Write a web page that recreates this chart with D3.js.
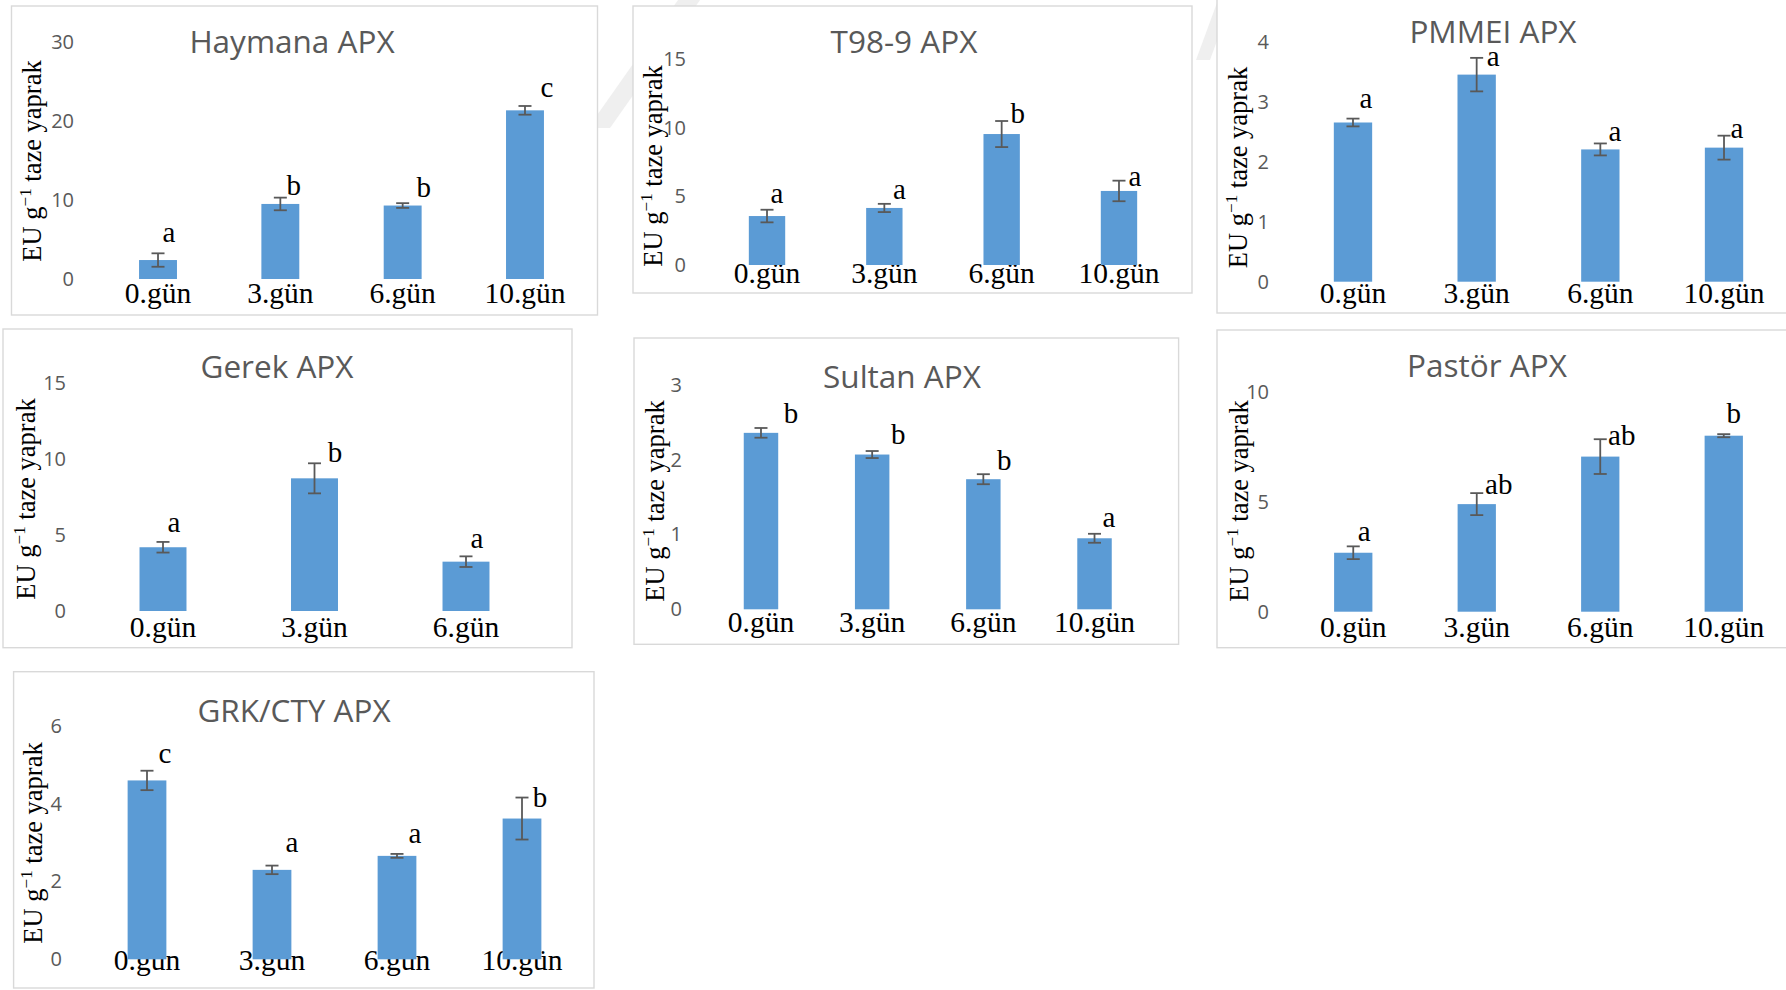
<!DOCTYPE html>
<html lang="tr">
<head>
<meta charset="utf-8">
<title>APX aktivitesi</title>
<script src="https://cdn.jsdelivr.net/npm/d3@7"></script>
<style>
  html, body { margin: 0; padding: 0; background: #ffffff; }
  svg { display: block; }
</style>
</head>
<body>
<svg id="chart" width="1786" height="990"></svg>
<script>
// ---- data ----------------------------------------------------------------
const days4 = ["0.gün", "3.gün", "6.gün", "10.gün"];
const days3 = ["0.gün", "3.gün", "6.gün"];

const haymanaMeans  = [2.4, 9.5, 9.3, 21.35];
const haymanaErrors = [0.85, 0.8, 0.3, 0.55];
const haymanaGroups = ["a", "b", "b", "c"];
const haymanaTicks  = [0, 10, 20, 30];

const t989Means  = [3.57, 4.16, 9.55, 5.4];
const t989Errors = [0.46, 0.3, 0.95, 0.75];
const t989Groups = ["a", "a", "b", "a"];
const t989Ticks  = [0, 5, 10, 15];

const pmmeiMeans  = [2.66, 3.46, 2.21, 2.24];
const pmmeiErrors = [0.065, 0.28, 0.1, 0.2];
const pmmeiGroups = ["a", "a", "a", "a"];
const pmmeiTicks  = [0, 1, 2, 3, 4];

const gerekMeans  = [4.2, 8.74, 3.25];
const gerekErrors = [0.35, 0.99, 0.35];
const gerekGroups = ["a", "b", "a"];
const gerekTicks  = [0, 5, 10, 15];

const sultanMeans  = [2.36, 2.07, 1.74, 0.95];
const sultanErrors = [0.065, 0.047, 0.067, 0.06];
const sultanGroups = ["b", "b", "b", "a"];
const sultanTicks  = [0, 1, 2, 3];

const pastorMeans  = [2.68, 4.89, 7.05, 8.0];
const pastorErrors = [0.29, 0.5, 0.79, 0.07];
const pastorGroups = ["a", "ab", "ab", "b"];
const pastorTicks  = [0, 5, 10];

const grkMeans  = [4.6, 2.3, 2.66, 3.62];
const grkErrors = [0.25, 0.11, 0.05, 0.54];
const grkGroups = ["c", "a", "a", "b"];
const grkTicks  = [0, 2, 4, 6];

const panelTitles = ["Haymana APX", "T98-9 APX", "PMMEI APX", "Gerek APX",
                     "Sultan APX", "Pastör APX", "GRK/CTY APX"];

// ---- panel geometry (frame, plot ranges, text anchors) --------------------
// nudge: offset of each group letter from the top of its error bar [dx, dy]
const layout = [
  { box: [11.5, 6, 597.5, 315],    xr: [96.85, 586.15],  yr: [279, 42],      tickRight: 74,   title: [292, 53],    yTitle: [41, 161],     labelBase: 303,
    nudge: [[11, -11], [13.5, -3], [21, -6], [22, -9]] },
  { box: [633, 6, 1192, 293],      xr: [708.35, 1177.65], yr: [265, 59.3],   tickRight: 686,  title: [904, 53],    yTitle: [662, 166],    labelBase: 283,
    nudge: [[10, -7], [15, -5], [16, 2], [16, 5]] },
  { box: [1217, -5, 1800, 313],    xr: [1291.15, 1785.85], yr: [281.7, 42.3], tickRight: 1269, title: [1493, 43],   yTitle: [1246.7, 167.5], labelBase: 303,
    nudge: [[13, -11], [16.5, 8], [14.5, -2], [13, 2]] },
  { box: [3, 329, 572, 647.7],     xr: [87.25, 541.75],  yr: [611, 383.3],   tickRight: 66,   title: [277, 378],   yTitle: [35, 499],     labelBase: 636.7,
    nudge: [[11, -10], [20.5, -1], [11, -8.6]] },
  { box: [634, 338, 1178.6, 644.3], xr: [705.4, 1150.1], yr: [609.3, 385],   tickRight: 682,  title: [902, 388],   yTitle: [663.6, 501],  labelBase: 631.7,
    nudge: [[30, -5], [26, -7], [21, -4], [14.5, -7]] },
  { box: [1217, 330, 1800, 647.7], xr: [1291.5, 1785.5], yr: [611.7, 391.7], tickRight: 1269, title: [1487, 377],  yTitle: [1247.8, 501], labelBase: 636.7,
    nudge: [[11, -5], [22, 1], [21.5, 6], [10, -11]] },
  { box: [13.6, 671.7, 594, 988],  xr: [84.5, 584.5],    yr: [959.3, 726],   tickRight: 62,   title: [294, 722],   yTitle: [41.6, 843],   labelBase: 970,
    nudge: [[18, -8], [20, -14], [18, -11], [18, 9]] }
];

const panels = [
  { cats: days4, means: haymanaMeans, errs: haymanaErrors, groups: haymanaGroups, ticks: haymanaTicks },
  { cats: days4, means: t989Means,    errs: t989Errors,    groups: t989Groups,    ticks: t989Ticks },
  { cats: days4, means: pmmeiMeans,   errs: pmmeiErrors,   groups: pmmeiGroups,   ticks: pmmeiTicks },
  { cats: days3, means: gerekMeans,   errs: gerekErrors,   groups: gerekGroups,   ticks: gerekTicks },
  { cats: days4, means: sultanMeans,  errs: sultanErrors,  groups: sultanGroups,  ticks: sultanTicks },
  { cats: days4, means: pastorMeans,  errs: pastorErrors,  groups: pastorGroups,  ticks: pastorTicks },
  { cats: days4, means: grkMeans,     errs: grkErrors,     groups: grkGroups,     ticks: grkTicks }
];

// ---- styles ---------------------------------------------------------------
const BAR = "#5b9bd5";
const GREY = "#595959";
const SANS = "'Open Sans', 'Noto Sans', sans-serif";
const SERIF = "'Liberation Serif', 'Times New Roman', serif";

const svg = d3.select("#chart");

// faint background watermark strokes
const wm = svg.append("g").attr("fill", "#efefef");
wm.append("polygon").attr("points", "588,128 610,128 700,0 678,0");
wm.append("polygon").attr("points", "1196,60 1210,60 1232,0 1218,0");

panels.forEach((p, i) => {
  const L = layout[i];
  const g = svg.append("g");

  // chart frame
  g.append("rect")
    .attr("x", L.box[0]).attr("y", L.box[1])
    .attr("width", L.box[2] - L.box[0]).attr("height", L.box[3] - L.box[1])
    .attr("fill", "#ffffff").attr("stroke", "#d9d9d9").attr("stroke-width", 1.4);

  const x = d3.scaleBand().domain(p.cats).range(L.xr)
    .paddingInner(0.69).paddingOuter(0.345);
  const y = d3.scaleLinear().domain([0, d3.max(p.ticks)]).range(L.yr);

  // title
  g.append("text")
    .attr("x", L.title[0]).attr("y", L.title[1])
    .attr("text-anchor", "middle")
    .attr("font-family", SANS).attr("font-size", 31.5).attr("fill", GREY)
    .text(panelTitles[i]);

  // value axis (labels only)
  const yAxis = g.append("g")
    .attr("transform", `translate(${L.tickRight},0)`)
    .call(d3.axisLeft(y).tickValues(p.ticks).tickSize(0).tickPadding(0).tickFormat(d3.format("d")));
  yAxis.select(".domain").remove();
  yAxis.selectAll("text")
    .attr("font-family", SANS).attr("font-size", 20).attr("fill", GREY);

  // category axis (labels only)
  const xAxis = g.append("g")
    .attr("transform", `translate(0,${L.yr[0]})`)
    .call(d3.axisBottom(x).tickSize(0));
  xAxis.select(".domain").remove();
  xAxis.selectAll("text")
    .attr("y", L.labelBase - L.yr[0]).attr("dy", 0)
    .attr("font-family", SERIF).attr("font-size", 29.5).attr("fill", "#000");

  const rows = p.cats.map((c, k) => ({ c, m: p.means[k], e: p.errs[k], g: p.groups[k], n: L.nudge[k] }));

  // bars
  g.append("g").selectAll("rect").data(rows).join("rect")
    .attr("x", d => x(d.c)).attr("width", x.bandwidth())
    .attr("y", d => y(d.m)).attr("height", d => y(0) - y(d.m))
    .attr("fill", BAR);

  // error bars
  const cap = 6.5;
  const eb = g.append("g").attr("stroke", GREY).attr("stroke-width", 1.8).attr("fill", "none");
  rows.forEach(d => {
    const cx = x(d.c) + x.bandwidth() / 2;
    const lo = y(d.m - d.e), hi = y(d.m + d.e);
    eb.append("line").attr("x1", cx).attr("x2", cx).attr("y1", lo).attr("y2", hi);
    eb.append("line").attr("x1", cx - cap).attr("x2", cx + cap).attr("y1", lo).attr("y2", lo);
    eb.append("line").attr("x1", cx - cap).attr("x2", cx + cap).attr("y1", hi).attr("y2", hi);
  });

  // significance letters
  g.append("g").selectAll("text").data(rows).join("text")
    .attr("x", d => x(d.c) + x.bandwidth() / 2 + d.n[0])
    .attr("y", d => y(d.m + d.e) + d.n[1])
    .attr("text-anchor", "middle")
    .attr("font-family", SERIF).attr("font-size", 29).attr("fill", "#000")
    .text(d => d.g);

  // value axis title
  const t = g.append("text")
    .attr("transform", `translate(${L.yTitle[0]},${L.yTitle[1]}) rotate(-90)`)
    .attr("text-anchor", "middle")
    .attr("font-family", SERIF).attr("font-size", 26.5).attr("fill", "#000");
  t.append("tspan").text("EU g");
  t.append("tspan").attr("font-size", 17).attr("dy", -10).text("\u22121");
  t.append("tspan").attr("dy", 10).text(" taze yaprak");
});
</script>
</body>
</html>
